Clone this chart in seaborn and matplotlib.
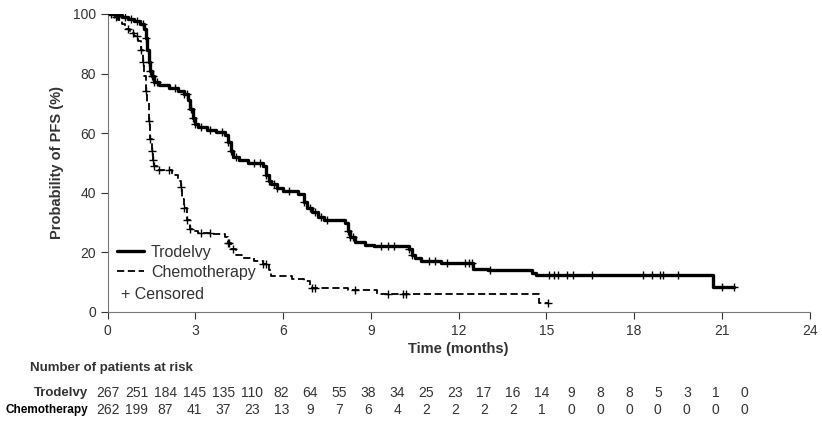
import numpy as np
import pandas as pd
import matplotlib
matplotlib.use("Agg")
import matplotlib.pyplot as plt
from matplotlib.lines import Line2D
import seaborn as sns

# Kaplan-Meier step points (months, % PFS)
trod_time = [0, 0.3, 0.5, 0.7, 0.9, 1.1, 1.25, 1.3, 1.35, 1.4, 1.45, 1.5, 1.6, 1.75, 2.1, 2.4,
             2.6, 2.75, 2.8, 2.9, 3.0, 3.1, 3.4, 3.7, 4.0, 4.1, 4.2, 4.3, 4.5, 4.8, 5.3, 5.4,
             5.5, 5.6, 5.8, 6.0, 6.5, 6.7, 6.8, 7.0, 7.2, 7.4, 8.1, 8.2, 8.3, 8.45, 8.8, 9.1,
             10.3, 10.4, 10.5, 10.7, 11.4, 12.5, 13.0, 14.5, 14.65, 20.7, 21.4]
trod_surv = [100, 99.6, 99, 98.2, 97.5, 96.5, 95, 92, 88, 84, 81, 79, 77, 76, 75, 74,
             73, 71, 68, 65, 63, 62, 61, 60.5, 59.5, 57, 54, 52, 51, 50, 49, 46,
             44, 43, 41.5, 40.5, 39.5, 37, 35, 33.5, 32, 31, 30, 27, 25, 23.5, 22.5, 22,
             21, 19, 18, 17, 16.4, 14.5, 14, 13, 12.4, 8.4, 8.4]
trod_cens = [0.1, 0.2, 0.4, 0.6, 0.8, 1.0, 1.2, 1.3, 1.4, 1.45, 1.5, 1.55, 1.6, 1.7, 2.3, 2.6,
             2.7, 2.85, 2.9, 3.0, 3.2, 3.5, 3.9, 4.1, 4.2, 4.4, 5.0, 5.2, 5.4, 5.5, 5.7, 5.8,
             6.2, 6.7, 6.9, 7.1, 7.3, 7.5, 8.2, 8.3, 8.4, 9.35, 9.6, 9.8, 10.3, 10.4, 11.0,
             11.2, 11.6, 12.2, 12.35, 12.45, 13.06, 15.1, 15.25, 15.4, 15.7, 15.9, 16.55,
             18.3, 18.6, 18.9, 19.0, 19.5, 21.0, 21.4]

chemo_time = [0, 0.2, 0.35, 0.5, 0.6, 0.75, 0.9, 1.05, 1.15, 1.2, 1.25, 1.3, 1.35, 1.4, 1.45,
              1.5, 1.55, 1.6, 1.7, 2.2, 2.4, 2.5, 2.55, 2.6, 2.7, 2.8, 2.9, 3.1, 3.6, 4.0,
              4.1, 4.2, 4.4, 4.6, 5.0, 5.3, 5.5, 5.6, 6.3, 6.7, 6.9, 7.0, 8.2, 9.2, 14.75, 15.05]
chemo_surv = [100, 99, 98, 96.5, 95, 93.5, 92.5, 91, 88, 84, 79, 74, 70, 64, 58,
              54, 51, 49, 47.5, 46, 44, 42, 38, 35, 31, 28, 27, 26.5, 26, 25,
              23, 21, 19, 18, 17, 16, 14, 12, 11, 10.5, 8.5, 8, 7.5, 6, 3, 3]
chemo_cens = [0.3, 0.7, 0.85, 1.0, 1.15, 1.2, 1.3, 1.4, 1.45, 1.5, 1.55, 1.6, 1.75, 2.1,
              2.5, 2.6, 2.7, 2.8, 3.2, 3.5, 4.1, 4.15, 4.3, 5.3, 5.4, 7.0, 7.1, 8.45, 9.6,
              10.1, 10.2, 15.05]

risk_trod = [267, 251, 184, 145, 135, 110, 82, 64, 55, 38, 34, 25, 23, 17, 16, 14, 9, 8, 8, 5, 3, 1, 0]
risk_chemo = [262, 199, 87, 41, 37, 23, 13, 9, 7, 6, 4, 2, 2, 2, 2, 1, 0, 0, 0, 0, 0, 0, 0]


def censor_points(times, steps_t, steps_s):
    idx = np.searchsorted(steps_t, times, side="right") - 1
    return np.asarray(steps_s)[idx]


curves = pd.concat([
    pd.DataFrame({"time": trod_time, "surv": trod_surv, "arm": "Trodelvy"}),
    pd.DataFrame({"time": chemo_time, "surv": chemo_surv, "arm": "Chemotherapy"}),
])
cens = pd.concat([
    pd.DataFrame({"time": trod_cens, "surv": censor_points(trod_cens, trod_time, trod_surv)}),
    pd.DataFrame({"time": chemo_cens, "surv": censor_points(chemo_cens, chemo_time, chemo_surv)}),
])

sns.set_style("ticks")
plt.rcParams["font.family"] = ["Liberation Sans", "DejaVu Sans"]

fig = plt.figure(figsize=(8.22, 4.21), dpi=100)
ax = fig.add_axes([0.131, 0.259, 0.854, 0.708])

sns.lineplot(data=curves[curves.arm == "Trodelvy"], x="time", y="surv", ax=ax,
             color="black", lw=2.4, drawstyle="steps-post", estimator=None, sort=False)
sns.lineplot(data=curves[curves.arm == "Chemotherapy"], x="time", y="surv", ax=ax,
             color="black", lw=1.3, dashes=False, drawstyle="steps-post", estimator=None,
             sort=False, linestyle=(0, (4, 2)))
sns.scatterplot(data=cens, x="time", y="surv", ax=ax, marker="+", s=30,
                color="black", linewidth=1.0, zorder=5)

ax.set_xlim(0, 24)
ax.set_ylim(0, 100)
ax.set_xticks(range(0, 25, 3))
ax.set_yticks(range(0, 101, 20))
ax.tick_params(colors="#333333", labelsize=10, length=5, width=0.8)
for sp in ["left", "bottom"]:
    ax.spines[sp].set_color("#777777")
sns.despine(ax=ax)
ax.set_xlabel("Time (months)", fontsize=10.5, fontweight="bold", color="#333333", labelpad=3)
ax.set_ylabel("Probability of PFS (%)", fontsize=10.5, fontweight="bold", color="#333333", labelpad=6)

handles = [Line2D([], [], color="black", lw=2.4),
           Line2D([], [], color="black", lw=1.3, ls=(0, (4, 2)))]
ax.legend(handles, ["Trodelvy", "Chemotherapy"],
          loc="center left", bbox_to_anchor=(0.0, 0.166), frameon=False, fontsize=11.5,
          handlelength=1.7, handletextpad=0.4, labelspacing=0.3, labelcolor="#333333",
          borderaxespad=0.2)
ax.text(0.0185, 0.057, "+ Censored", transform=ax.transAxes, fontsize=11.5,
        color="#333333", va="center", ha="left")

# number at risk table
fig.text(0.037, 0.126, "Number of patients at risk", fontsize=9.5, fontweight="bold",
         color="#333333", va="center")
fig.text(0.107, 0.067, "Trodelvy", fontsize=9.5, fontweight="bold", color="#333333",
         ha="right", va="center")
fig.text(0.107, 0.026, "Chemotherapy", fontsize=8.5, fontweight="bold", color="black",
         ha="right", va="center")
trans = ax.get_xaxis_transform()
col_step = 0.99
for i, (a, b) in enumerate(zip(risk_trod, risk_chemo)):
    ax.text(i * col_step, -0.272, str(a), transform=trans, ha="center", va="center",
            fontsize=10, color="#333333", clip_on=False)
    ax.text(i * col_step, -0.329, str(b), transform=trans, ha="center", va="center",
            fontsize=10, color="#333333", clip_on=False)

fig.savefig("out.png", dpi=100)
